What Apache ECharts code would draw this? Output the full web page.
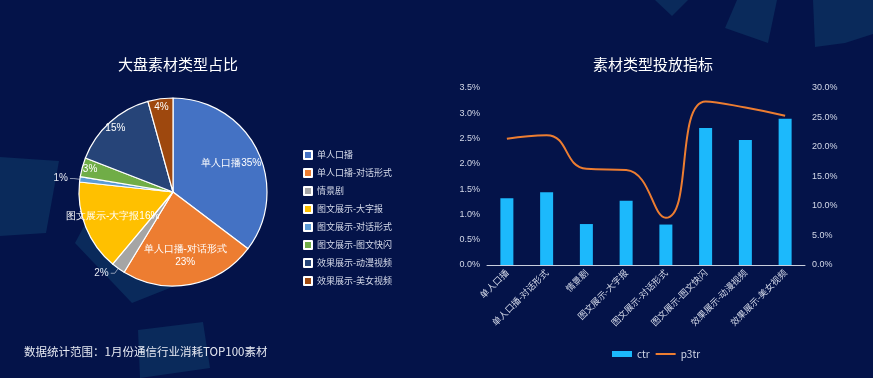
<!DOCTYPE html>
<html>
<head>
<meta charset="utf-8">
<script src="https://cdn.jsdelivr.net/npm/echarts@6/dist/echarts.min.js"></script>
<style>
html,body{margin:0;padding:0;background:#041349;}
#main{width:873px;height:378px;}
</style>
</head>
<body>
<div id="main"></div>
<script>
// ---- data ----
var pieNames = ['单人口播','单人口播-对话形式','情景剧','图文展示-大字报','图文展示-对话形式','图文展示-图文快闪','效果展示-动漫视频','效果展示-美女视频'];
var pieValues = [35.3, 23.4, 2.4, 15.6, 0.9, 3.3, 14.8, 4.3];
var pieColors = ['#4472c4','#ed7d31','#a5a5a5','#ffc000','#5b9bd5','#70ad47','#264478','#9e480e'];
// label style per slice: 'name' = inner label with name, 'pct' = inner percent only, 'out' = outside
var pieLabelKind = ['name','name2','out','name','out','pct','pct','pct'];

var barCategories = ['单人口播','单人口播-对话形式','情景剧','图文展示-大字报','图文展示-对话形式','图文展示-图文快闪','效果展示-动漫视频','效果展示-美女视频'];
var ctrValues = [1.32, 1.44, 0.81, 1.27, 0.80, 2.71, 2.47, 2.89];
var p3trValues = [21.4, 22.0, 16.3, 16.1, 8.0, 27.7, 26.7, 25.3];

var titleLeft = '大盘素材类型占比';
var titleRight = '素材类型投放指标';
var footnote = '数据统计范围：1月份通信行业消耗TOP100素材';

// ---- chart ----
var chart = echarts.init(document.getElementById('main'));
var textColor = '#d3d8e8';

function pct(p){ return Math.round(p.percent) + '%'; }

function buildPieData(kinds){
  return pieNames.map(function(n, i){
    var show = kinds.indexOf(pieLabelKind[i]) >= 0;
    return {name: n, value: pieValues[i], itemStyle: {color: pieColors[i]}, label: {show: show}, labelLine: {show: show}};
  });
}

var center = [173, 192];
var R = 94;

var option = {
  backgroundColor: '#041349',
  graphic: [
    {type:'polygon', z:-10, silent:true, shape:{points:[[655,0],[688,0],[672,16]]}, style:{fill:'#0a2a5b'}},
    {type:'polygon', z:-10, silent:true, shape:{points:[[737,0],[777,0],[768,43],[725,28]]}, style:{fill:'#0a2a5b'}},
    {type:'polygon', z:-10, silent:true, shape:{points:[[813,0],[873,0],[873,34],[845,43],[815,47]]}, style:{fill:'#0a2a5b'}},
    {type:'polygon', z:-10, silent:true, shape:{points:[[0,157],[59,161],[46,233],[0,236]]}, style:{fill:'#0a2a5b'}},
    {type:'polygon', z:-10, silent:true, shape:{points:[[90,215],[75,243],[132,303],[195,278],[180,230]]}, style:{fill:'#0a2a5b'}},
    {type:'polygon', z:-10, silent:true, shape:{points:[[138,330],[203,322],[210,368],[140,378]]}, style:{fill:'#0a2a5b'}}
  ],
  title: [
    {text: titleLeft, left: 173, top: 52, textAlign: 'center', textStyle: {color: '#ffffff', fontSize: 15, fontWeight: 'normal', fontFamily: 'Noto Sans CJK SC'}},
    {text: titleRight, left: 648, top: 52, textAlign: 'center', textStyle: {color: '#ffffff', fontSize: 15, fontWeight: 'normal', fontFamily: 'Noto Sans CJK SC'}},
    {text: footnote, left: 24, top: 346, padding: 0, textStyle: {color: '#e6e9f2', fontSize: 11.5, fontWeight: 'normal', fontFamily: 'Noto Sans CJK SC'}}
  ],
  legend: [
    {
      data: pieNames, orient: 'vertical', left: 298, top: 144,
      itemWidth: 8, itemHeight: 8, itemGap: 6, icon: 'rect',
      textStyle: {color: textColor, fontSize: 9, lineHeight: 12, fontFamily: 'Noto Sans CJK SC'}
    },
    {
      data: [{name:'ctr', icon:'rect'}, {name:'p3tr', icon:'path://M0,0 L20,0 L20,2 L0,2 Z'}], left: 607, top: 344,
      itemWidth: 20, itemHeight: 6, itemGap: 6,
      textStyle: {color: textColor, fontSize: 10, fontFamily: 'Noto Sans CJK SC'}
    }
  ],
  grid: {left: 487, right: 68, top: 88, bottom: 113},
  xAxis: {
    type: 'category', data: barCategories,
    axisLine: {lineStyle: {color: '#c9cedd'}},
    axisTick: {show: false},
    axisLabel: {rotate: 45, color: textColor, fontSize: 9, interval: 0, margin: 6, fontFamily: 'Noto Sans CJK SC'}
  },
  yAxis: [
    {type:'value', min:0, max:3.5, interval:0.5, splitLine:{show:false}, axisLine:{show:false}, axisTick:{show:false},
     axisLabel:{color:textColor, fontSize:9, margin:7, formatter:function(v){return v.toFixed(1)+'%';}}},
    {type:'value', min:0, max:30, interval:5, splitLine:{show:false}, axisLine:{show:false}, axisTick:{show:false},
     axisLabel:{color:textColor, fontSize:9, margin:7, formatter:function(v){return v.toFixed(1)+'%';}}}
  ],
  series: [
    {
      type: 'pie', name: 'main', center: center, radius: R, startAngle: 90, clockwise: true,
      itemStyle: {borderColor: '#ffffff', borderWidth: 1.2},
      label: {position: 'outside', color: '#e6e9f2', fontSize: 10, formatter: pct, distanceToLabelLine: 2},
      labelLine: {length: 6, length2: 4, lineStyle: {color: '#b0b8cc', width: 0.8}},
      emphasis: {disabled: true},
      data: buildPieData(['out'])
    },
    {
      type: 'pie', name: 'lab1', center: center, radius: [30, R], startAngle: 90, clockwise: true, silent: true,
      legendHoverLink: false,
      itemStyle: {color: 'rgba(0,0,0,0)', borderWidth: 0},
      label: {position: 'inside', color: '#ffffff', fontSize: 10, lineHeight: 13,
        formatter: function(p){
          var kind = pieLabelKind[p.dataIndex];
          return kind === 'name2' ? p.name + '\n' + pct(p) : p.name + pct(p);
        }},
      emphasis: {disabled: true},
      data: buildPieData(['name','name2']).map(function(d){ d.itemStyle = {color:'rgba(0,0,0,0)'}; return d; })
    },
    {
      type: 'pie', name: 'lab2', center: center, radius: [72, R], startAngle: 90, clockwise: true, silent: true,
      legendHoverLink: false,
      itemStyle: {color: 'rgba(0,0,0,0)', borderWidth: 0},
      label: {position: 'inside', color: '#ffffff', fontSize: 10, formatter: pct},
      emphasis: {disabled: true},
      data: buildPieData(['pct']).map(function(d){ d.itemStyle = {color:'rgba(0,0,0,0)'}; return d; })
    },
    {
      type: 'bar', name: 'ctr', data: ctrValues, barWidth: 13, yAxisIndex: 0,
      itemStyle: {color: '#1cb9fc'}
    },
    {
      type: 'line', name: 'p3tr', data: p3trValues, yAxisIndex: 1, smooth: true, showSymbol: false, symbol: 'none',
      lineStyle: {color: '#ed7d31', width: 2}, itemStyle: {color: '#ed7d31'}
    }
  ]
};
chart.setOption(option);
</script>
</body>
</html>
